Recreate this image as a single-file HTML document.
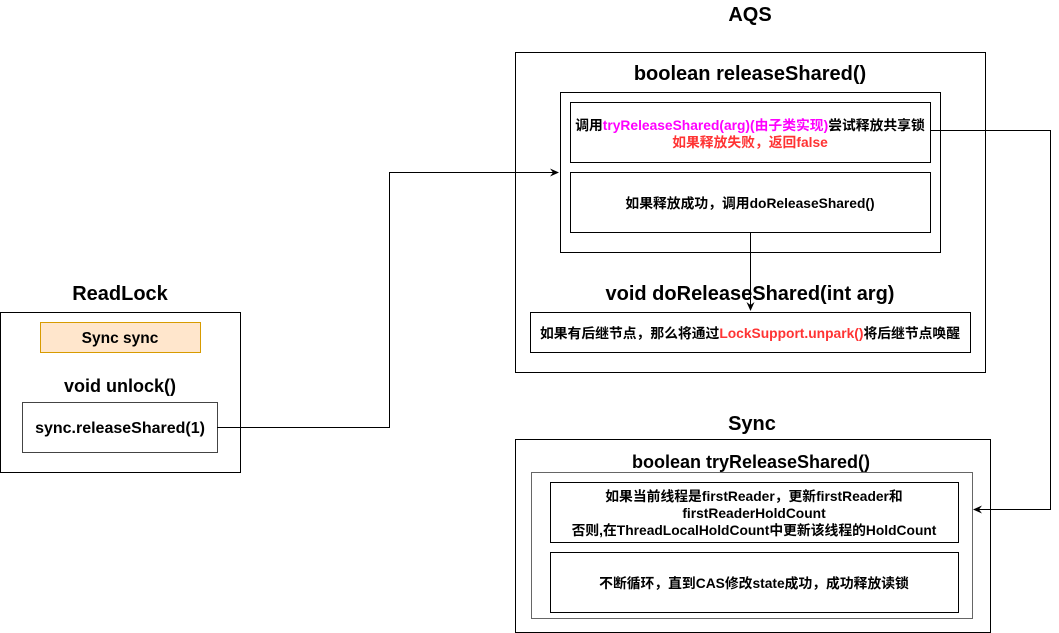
<!DOCTYPE html>
<html><head><meta charset="utf-8"><style>
body{margin:0;background:#fff}
svg{display:block}
text{font-family:"Liberation Sans","Noto Sans CJK SC",sans-serif;font-weight:bold;text-anchor:middle;fill:#000}
.t{font-size:20px}
.s{font-size:13.8px}
</style></head><body>
<svg width="1059" height="633" viewBox="0 0 1059 633" xmlns="http://www.w3.org/2000/svg">
<defs><marker id="a" markerWidth="10" markerHeight="10" refX="8" refY="5" orient="auto" markerUnits="userSpaceOnUse"><path d="M0,1 L9,5 L0,9 L3,5 Z" fill="#000"/></marker></defs>
<g fill="none" stroke="#000" stroke-width="1">
<rect x="515.5" y="52.5" width="470" height="320"/>
<rect x="560.5" y="92.5" width="380" height="160"/>
<rect x="570.5" y="102.5" width="360" height="60"/>
<rect x="570.5" y="172.5" width="360" height="60"/>
<rect x="530.5" y="312.5" width="440" height="40"/>
<rect x="515.5" y="439.5" width="475" height="193"/>
<rect x="531.5" y="472.5" width="441" height="146" stroke="#666"/>
<rect x="550.5" y="482.5" width="408" height="60"/>
<rect x="550.5" y="552.5" width="408" height="60"/>
<rect x="0.5" y="312.5" width="240" height="160"/>
<rect x="22.5" y="402.5" width="195" height="50" stroke="#444"/>
<rect x="40.5" y="322.5" width="160" height="30" fill="#ffe6cc" stroke="#d79b00"/>
<path d="M217,427.5 H389.5 V172.5 H558" marker-end="url(#a)"/>
<path d="M930,130.5 H1050.5 V509.5 H974" marker-end="url(#a)"/>
<path d="M750.5,232 V310" marker-end="url(#a)"/>
</g>
<text class="t" x="750" y="21">AQS</text>
<text class="t" x="750" y="80">boolean releaseShared()</text>
<text class="t" x="750" y="300">void doReleaseShared(int arg)</text>
<text class="t" x="752" y="430">Sync</text>
<text x="751" y="468" style="font-size:18px">boolean tryReleaseShared()</text>
<text class="t" x="120" y="300">ReadLock</text>
<text x="120" y="392" style="font-size:18px">void unlock()</text>
<text x="120" y="343" style="font-size:15.5px">Sync sync</text>
<text x="120" y="433" style="font-size:16px">sync.releaseShared(1)</text>
<text class="s" x="750" y="130">调用<tspan fill="#ff00ff">tryReleaseShared(arg)(由子类实现)</tspan>尝试释放共享锁</text>
<text class="s" x="750" y="147" style="fill:#ff3333">如果释放失败，返回false</text>
<text class="s" x="750" y="208">如果释放成功，调用doReleaseShared()</text>
<text class="s" x="750" y="338">如果有后继节点，那么将通过<tspan fill="#ff3333">LockSupport.unpark()</tspan>将后继节点唤醒</text>
<text class="s" x="754" y="501">如果当前线程是firstReader，更新firstReader和</text>
<text class="s" x="754" y="518">firstReaderHoldCount</text>
<text class="s" x="754" y="535">否则,在ThreadLocalHoldCount中更新该线程的HoldCount</text>
<text class="s" x="754" y="588">不断循环，直到CAS修改state成功，成功释放读锁</text>
</svg>
</body></html>
